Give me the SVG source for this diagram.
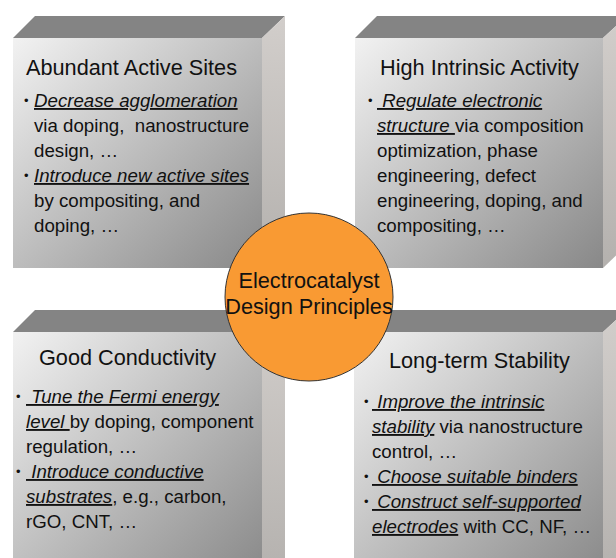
<svg xmlns="http://www.w3.org/2000/svg" width="616" height="558" viewBox="0 0 616 558">
<defs>
<linearGradient id="gFront" x1="0" y1="0" x2="1" y2="1">
<stop offset="0" stop-color="#f2f2f2"/>
<stop offset="1" stop-color="#888888"/>
</linearGradient>
<linearGradient id="gSide" x1="0" y1="0" x2="0" y2="1">
<stop offset="0" stop-color="#d2cecb"/>
<stop offset="1" stop-color="#b4b1ae"/>
</linearGradient>
<style>
.front{fill:url(#gFront);}
.top{fill:#848484;}
.side{fill:url(#gSide);}
text{font-family:"Liberation Sans",Arial,Helvetica,sans-serif;fill:#111;white-space:pre;}
.h{font-size:21.7px;}
.b{font-size:18.7px;}
.d{font-size:13px;}
.u{font-style:italic;text-decoration:underline;}
.c{font-size:21.7px;text-anchor:middle;}
</style>
</defs>
<g id="connectors"/>
<g id="box-abundant">
<polygon class="top" points="13,38 35,16 285,16 262,38"/>
<polygon class="side" points="262,38 285,16 285,245 262,268"/>
<rect class="front" x="13" y="38" width="249" height="230"/>
<text class="h" x="26" y="75">Abundant Active Sites</text>
<text class="d"><tspan x="24" y="105">•</tspan><tspan x="24" y="180">•</tspan></text>
<text class="b"><tspan x="34" y="107" class="u">Decrease agglomeration</tspan><tspan x="34" y="132">via doping,  nanostructure</tspan><tspan x="34" y="157">design, …</tspan><tspan x="34" y="182" class="u">Introduce new active sites</tspan><tspan x="34" y="207">by compositing, and</tspan><tspan x="34" y="232">doping, …</tspan></text>
</g>
<g id="box-activity">
<polygon class="top" points="355,38 377,16 627,16 603,38"/>
<polygon class="side" points="603,38 627,16 627,245 603,268"/>
<rect class="front" x="355" y="38" width="248" height="230"/>
<text class="h" x="380" y="75">High Intrinsic Activity</text>
<text class="d"><tspan x="368" y="105">•</tspan></text>
<text class="b"><tspan x="377" y="107" class="u"> Regulate electronic</tspan><tspan x="377" y="132" class="u">structure </tspan><tspan>via composition</tspan><tspan x="377" y="157">optimization, phase</tspan><tspan x="377" y="182">engineering, defect</tspan><tspan x="377" y="207">engineering, doping, and</tspan><tspan x="377" y="232">compositing, …</tspan></text>
</g>
<g id="box-conductivity">
<polygon class="top" points="13,332 35,310 285,310 262,332"/>
<polygon class="side" points="262,332 285,310 285,560 262,580"/>
<rect class="front" x="13" y="332" width="249" height="248"/>
<text class="h" x="39" y="365">Good Conductivity</text>
<text class="d"><tspan x="16" y="401">•</tspan><tspan x="16" y="476">•</tspan></text>
<text class="b"><tspan x="26" y="403" class="u"> Tune the Fermi energy</tspan><tspan x="26" y="428" class="u">level </tspan><tspan>by doping, component</tspan><tspan x="26" y="453">regulation, …</tspan><tspan x="26" y="478" class="u"> Introduce conductive</tspan><tspan x="26" y="503" class="u">substrates</tspan><tspan>, e.g., carbon,</tspan><tspan x="26" y="528">rGO, CNT, …</tspan></text>
</g>
<g id="box-stability">
<polygon class="top" points="354,332 376,310 627,310 603,332"/>
<polygon class="side" points="603,332 627,310 627,560 603,580"/>
<rect class="front" x="354" y="332" width="249" height="248"/>
<text class="h" x="389" y="368">Long-term Stability</text>
<text class="d"><tspan x="364" y="406">•</tspan><tspan x="364" y="481">•</tspan><tspan x="364" y="506">•</tspan></text>
<text class="b"><tspan x="372" y="408" class="u"> Improve the intrinsic</tspan><tspan x="372" y="433" class="u">stability</tspan><tspan> via nanostructure</tspan><tspan x="372" y="458">control, …</tspan><tspan x="372" y="483" class="u"> Choose suitable binders</tspan><tspan x="372" y="508" class="u"> Construct self-supported</tspan><tspan x="372" y="533" class="u">electrodes</tspan><tspan> with CC, NF, …</tspan></text>
</g>
<g id="center">
<circle cx="309" cy="297" r="84" fill="#f99a33" stroke="#333" stroke-width="1"/>
<text class="c" x="309" y="288">Electrocatalyst</text>
<text class="c" x="309" y="314">Design Principles</text>
</g>
</svg>
